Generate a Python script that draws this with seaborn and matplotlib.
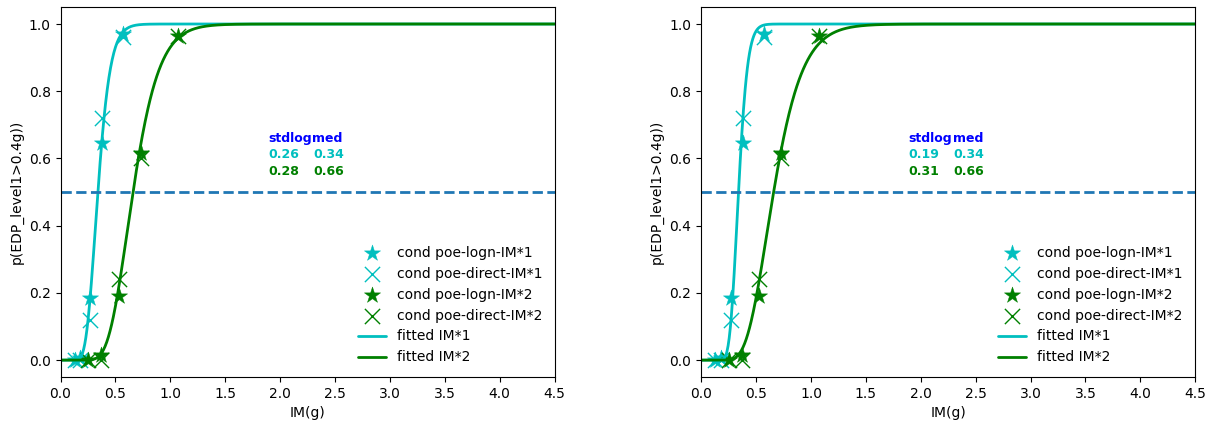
import math
import numpy as np
import pandas as pd
import matplotlib
matplotlib.use("Agg")
import matplotlib.pyplot as plt
import seaborn as sns

# ---- data ----
im1 = [0.13, 0.18, 0.27, 0.38, 0.57]
poe_logn_im1 = [0.0, 0.005, 0.185, 0.645, 0.97]
poe_direct_im1 = [0.0, 0.0, 0.12, 0.72, 0.96]

im2 = [0.25, 0.37, 0.53, 0.73, 1.07]
poe_logn_im2 = [0.0, 0.015, 0.19, 0.615, 0.963]
poe_direct_im2 = [0.0, 0.0, 0.24, 0.60, 0.965]

# fitted lognormal parameters (left panel, right panel)
stdlog_im1 = [0.26, 0.19]
med_im1 = [0.34, 0.34]
stdlog_im2 = [0.28, 0.31]
med_im2 = [0.66, 0.66]

threshold = 0.5
x_ticks = [0.0, 0.5, 1.0, 1.5, 2.0, 2.5, 3.0, 3.5, 4.0, 4.5]
y_ticks = [0.0, 0.2, 0.4, 0.6, 0.8, 1.0]


def logn_cdf(x, med, std):
    x = np.asarray(x, dtype=float)
    out = np.zeros_like(x)
    pos = x > 0
    z = np.log(x[pos] / med) / std
    out[pos] = 0.5 * (1 + np.vectorize(math.erf)(z / math.sqrt(2)))
    return out


sns.set_style("ticks")
plt.rcParams['font.family'] = ['DejaVu Sans']
plt.rcParams['text.color'] = 'black'
plt.rcParams['axes.labelcolor'] = 'black'
plt.rcParams['xtick.color'] = 'black'
plt.rcParams['ytick.color'] = 'black'

fig = plt.figure(figsize=(12.11, 4.24), dpi=100)
ax_pos = [[0.050, 0.111, 0.408, 0.872], [0.579, 0.111, 0.408, 0.872]]

xs = np.linspace(0.0, 4.5, 900)

for k in range(2):
    ax = fig.add_axes(ax_pos[k])
    d1 = pd.DataFrame({"im": im1, "logn": poe_logn_im1, "direct": poe_direct_im1})
    d2 = pd.DataFrame({"im": im2, "logn": poe_logn_im2, "direct": poe_direct_im2})

    sns.scatterplot(data=d1, x="im", y="logn", marker="*", color="c", s=150,
                    linewidth=0.3, edgecolor="c", label="cond poe-logn-IM*1", ax=ax)
    sns.scatterplot(data=d1, x="im", y="direct", marker="x", color="c", s=120,
                    linewidth=1.0, label="cond poe-direct-IM*1", ax=ax)
    sns.scatterplot(data=d2, x="im", y="logn", marker="*", color="g", s=150,
                    linewidth=0.3, edgecolor="g", label="cond poe-logn-IM*2", ax=ax)
    sns.scatterplot(data=d2, x="im", y="direct", marker="x", color="g", s=120,
                    linewidth=1.0, label="cond poe-direct-IM*2", ax=ax)

    f1 = pd.DataFrame({"x": xs, "y": logn_cdf(xs, med_im1[k], stdlog_im1[k])})
    f2 = pd.DataFrame({"x": xs, "y": logn_cdf(xs, med_im2[k], stdlog_im2[k])})
    sns.lineplot(data=f1, x="x", y="y", color="c", linewidth=2, label="fitted IM*1", ax=ax)
    sns.lineplot(data=f2, x="x", y="y", color="g", linewidth=2, label="fitted IM*2", ax=ax)

    ax.axhline(threshold, color="C0", linestyle="--", linewidth=2)

    ax.text(1.89, 0.65, "stdlog", color="b", fontsize=9, fontweight="bold")
    ax.text(2.29, 0.65, "med", color="b", fontsize=9, fontweight="bold")
    ax.text(1.89, 0.60, f"{stdlog_im1[k]:.2f}", color="c", fontsize=9, fontweight="bold")
    ax.text(2.30, 0.60, f"{med_im1[k]:.2f}", color="c", fontsize=9, fontweight="bold")
    ax.text(1.89, 0.55, f"{stdlog_im2[k]:.2f}", color="g", fontsize=9, fontweight="bold")
    ax.text(2.30, 0.55, f"{med_im2[k]:.2f}", color="g", fontsize=9, fontweight="bold")

    ax.set_xlim(0, 4.5)
    ax.set_ylim(-0.05, 1.05)
    ax.set_xticks(x_ticks)
    ax.set_yticks(y_ticks)
    ax.set_xlabel("IM(g)")
    ax.set_ylabel("p(EDP_level1>0.4g))")
    for sp in ax.spines.values():
        sp.set_visible(True)
        sp.set_color("black")
        sp.set_linewidth(0.8)
    ax.tick_params(labelsize=10)
    ax.legend(loc="lower right", frameon=False, fontsize=10, scatterpoints=1)

fig.savefig("out.png", dpi=100)
